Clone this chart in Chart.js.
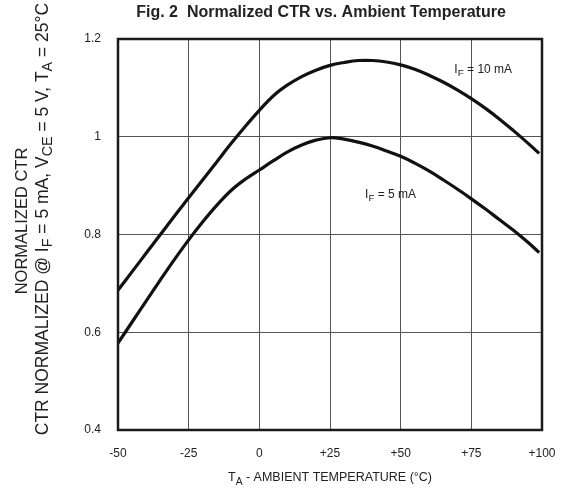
<!DOCTYPE html>
<html>
<head>
<meta charset="utf-8">
<script src="https://cdn.jsdelivr.net/npm/chart.js@4.4.1/dist/chart.umd.min.js"></script>
<style>
    html, body { margin: 0; padding: 0; background: #fff; }
    #grafico { width: 566px; height: 491px; }
</style>
</head>
<body>
<div id="grafico"><canvas id="ctr"></canvas></div>
<script>
const temperaturas = [-50, -45, -40, -35, -30, -25, -20, -15, -10, -5, 0, 5, 10, 15, 20, 25,
    30, 35, 40, 45, 50, 55, 60, 65, 70, 75, 80, 85, 90, 95, 99];
const ctr10mA = [0.686, 0.724, 0.762, 0.800, 0.838, 0.875, 0.912, 0.949, 0.986, 1.021, 1.054,
    1.084, 1.106, 1.123, 1.136, 1.146, 1.152, 1.156, 1.156, 1.153, 1.147, 1.138, 1.126, 1.112,
    1.096, 1.078, 1.058, 1.036, 1.012, 0.987, 0.966];
const ctr5mA = [0.578, 0.621, 0.664, 0.707, 0.749, 0.789, 0.826, 0.860, 0.890, 0.913, 0.932,
    0.951, 0.969, 0.983, 0.993, 0.998, 0.995, 0.989, 0.981, 0.971, 0.960, 0.946, 0.930, 0.912,
    0.893, 0.873, 0.852, 0.830, 0.808, 0.784, 0.763];
const rotulosX = ['-50', '-25', '0', '+25', '+50', '+75', '+100'];
const rotulosY = ['0.4', '0.6', '0.8', '1', '1.2'];

const FONTE = '"Liberation Sans", Arial, sans-serif';
const COR_TEXTO = '#222';

// pedaços de texto com subscrito (sub: true)
const tituloEixoX = [{ t: 'T' }, { t: 'A', sub: true }, { t: ' - AMBIENT TEMPERATURE (°C)' }];
const tituloEixoY1 = [{ t: 'NORMALIZED CTR' }];
const tituloEixoY2 = [
    { t: 'CTR NORMALIZED @ I' }, { t: 'F', sub: true }, { t: ' = 5 mA, V' }, { t: 'CE', sub: true },
    { t: ' = 5 V, T' }, { t: 'A', sub: true }, { t: ' = 25°C' }
];
const rotulo10mA = [{ t: 'I' }, { t: 'F', sub: true }, { t: ' = 10 mA' }];
const rotulo5mA = [{ t: 'I' }, { t: 'F', sub: true }, { t: ' = 5 mA' }];

function desenharTextoRico(ctx, partes, x, y, tamanho, alinhamento = 'center') {
    const tam = p => (p.sub ? tamanho * 0.82 : tamanho);
    let largura = 0;
    partes.forEach(p => {
        ctx.font = `${tam(p)}px ${FONTE}`;
        largura += ctx.measureText(p.t).width;
    });
    let cursor = alinhamento === 'center' ? x - largura / 2 : x;
    ctx.textAlign = 'left';
    ctx.textBaseline = 'middle';
    partes.forEach(p => {
        ctx.font = `${tam(p)}px ${FONTE}`;
        ctx.fillText(p.t, cursor, p.sub ? y + tamanho * 0.3 : y);
        cursor += ctx.measureText(p.t).width;
    });
}

const pluginTextos = {
    id: 'textos',
    afterDraw(chart) {
        const { ctx, chartArea: area, scales } = chart;
        ctx.save();

        // moldura grossa
        ctx.strokeStyle = '#1a1a1a';
        ctx.lineWidth = 2.5;
        ctx.strokeRect(area.left, area.top, area.right - area.left, area.bottom - area.top);

        ctx.fillStyle = COR_TEXTO;
        ctx.font = `bold 16px ${FONTE}`;
        ctx.textAlign = 'center';
        ctx.textBaseline = 'middle';
        ctx.fillText('Fig. 2  Normalized CTR vs. Ambient Temperature', 321, 13);

        desenharTextoRico(ctx, tituloEixoX, (area.left + area.right) / 2, 478, 12.5);

        ctx.save();
        ctx.translate(22, 221);
        ctx.rotate(-Math.PI / 2);
        desenharTextoRico(ctx, tituloEixoY1, 0, 0, 16.5);
        ctx.restore();
        ctx.save();
        ctx.translate(43, 219);
        ctx.rotate(-Math.PI / 2);
        desenharTextoRico(ctx, tituloEixoY2, 0, 0, 17.5);
        ctx.restore();

        desenharTextoRico(ctx, rotulo10mA, scales.x.getPixelForValue(69), scales.y.getPixelForValue(1.138), 12, 'left');
        desenharTextoRico(ctx, rotulo5mA, scales.x.getPixelForValue(37.4), scales.y.getPixelForValue(0.881), 12, 'left');
        ctx.restore();
    }
};

const pontos = valores => valores.map((v, i) => ({ x: temperaturas[i], y: v }));

new Chart(document.getElementById('ctr'), {
    type: 'line',
    data: {
        datasets: [
            { label: 'IF = 10 mA', data: pontos(ctr10mA) },
            { label: 'IF = 5 mA', data: pontos(ctr5mA) }
        ]
    },
    options: {
        responsive: true,
        maintainAspectRatio: false,
        animation: false,
        layout: { padding: { top: 39, right: 24, bottom: 0, left: 0 } },
        elements: {
            point: { radius: 0 },
            line: { borderColor: '#111', borderWidth: 3.2, tension: 0.4, borderCapStyle: 'butt' }
        },
        plugins: { legend: { display: false }, tooltip: { enabled: false } },
        scales: {
            x: {
                type: 'linear',
                min: -50,
                max: 100,
                afterFit: escala => {
                    escala.height = 61;
                    escala.paddingLeft = 0;
                    escala.paddingRight = 0;
                },
                border: { display: false },
                grid: { color: '#555', lineWidth: 1, drawTicks: false },
                ticks: {
                    stepSize: 25,
                    padding: 16,
                    color: COR_TEXTO,
                    font: { family: FONTE, size: 12 },
                    callback: (valor, indice) => rotulosX[indice]
                }
            },
            y: {
                min: 0.4,
                max: 1.2,
                afterFit: escala => { escala.width = 118; },
                border: { display: false },
                grid: { color: '#555', lineWidth: 1, drawTicks: false },
                ticks: {
                    stepSize: 0.2,
                    padding: 17,
                    color: COR_TEXTO,
                    font: { family: FONTE, size: 12 },
                    callback: (valor, indice) => rotulosY[indice]
                }
            }
        }
    },
    plugins: [pluginTextos]
});
</script>
</body>
</html>
